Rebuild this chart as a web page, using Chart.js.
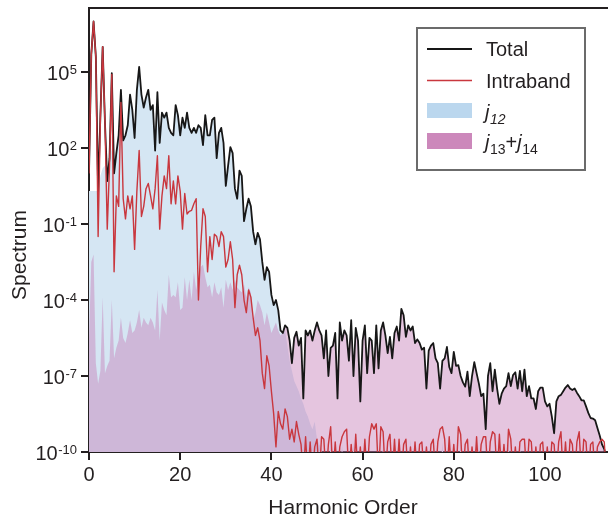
<!DOCTYPE html>
<html><head><meta charset="utf-8">
<script src="https://cdn.jsdelivr.net/npm/chart.js@4.4.0/dist/chart.umd.min.js"></script>
<style>html,body{margin:0;padding:0;background:#fff;overflow:hidden}canvas{display:block}</style>
</head><body>
<canvas id="c" width="608" height="516" style="width:608px;height:516px"></canvas>
<script>
const harmonics = [
0,0.5,1,1.5,2,2.5,3,3.5,4,4.5,
5,5.5,6,6.5,7,7.5,8,8.5,9,9.5,
10,10.5,11,11.5,12,12.5,13,13.5,14,14.5,
15,15.5,16,16.5,17,17.5,18,18.5,19,19.5,
20,20.5,21,21.5,22,22.5,23,23.5,24,24.5,
25,25.5,26,26.5,27,27.5,28,28.5,29,29.5,
30,30.5,31,31.5,32,32.5,33,33.5,34,34.5,
35,35.5,36,36.5,37,37.5,38,38.5,39,39.5,
40,40.5,41,41.5,42,42.5,43,43.5,44,44.5,
45,45.5,46,46.5,47,47.5,48,48.5,49,49.5,
50,50.5,51,51.5,52,52.5,53,53.5,54,54.5,
55,55.5,56,56.5,57,57.5,58,58.5,59,59.5,
60,60.5,61,61.5,62,62.5,63,63.5,64,64.5,
65,65.5,66,66.5,67,67.5,68,68.5,69,69.5,
70,70.5,71,71.5,72,72.5,73,73.5,74,74.5,
75,75.5,76,76.5,77,77.5,78,78.5,79,79.5,
80,80.5,81,81.5,82,82.5,83,83.5,84,84.5,
85,85.5,86,86.5,87,87.5,88,88.5,89,89.5,
90,90.5,91,91.5,92,92.5,93,93.5,94,94.5,
95,95.5,96,96.5,97,97.5,98,98.5,99,99.5,
100,100.5,101,101.5,102,102.5,103,103.5,104,104.5,
105,105.5,106,106.5,107,107.5,108,108.5,109,109.5,
110,110.5,111,111.5,112,112.5,113,113.5];

const total = [
1e1,5e5,1e7,4e5,2,2e3,1e6,1e3,5,40,
9e4,10,63,320,2e4,200,320,800,1.3e4,3.2e3,
250,2e4,1.6e5,1.3e4,4e3,1e4,2e4,3.2e3,5e3,80,
1.6e4,160,2.5e3,1.6e3,2.5e3,630,400,320,5e3,2e3,
320,1.6e3,630,2.5e3,630,400,630,400,800,630,
130,2e3,320,320,1.3e3,1.6e3,40,400,630,160,
3.2,20,110,63,2.5,1,13,8,0.13,0.4,
1,0.5,0.05,0.016,0.045,0.025,3.2e-3,6.3e-4,2e-3,1.3e-3,
1.6e-4,6.3e-5,1e-4,4e-5,6.3e-6,5e-6,1e-5,8e-6,2.5e-6,3.2e-7,
3.2e-6,5.6e-6,1.6e-6,3.2e-6,1.3e-8,6.3e-6,4e-6,6.3e-6,2.5e-6,6.3e-6,
1.3e-5,6.3e-6,4e-6,5e-7,6.3e-6,1e-7,1.3e-6,1.6e-6,5e-6,1.3e-8,
1.3e-5,2.5e-6,6.3e-6,4e-6,4e-7,1.6e-5,1e-7,8e-6,2.5e-6,1e-8,
2.5e-6,1e-5,1.3e-7,3.2e-6,2.5e-6,1.3e-7,1e-5,2e-7,6.3e-6,1.3e-5,
4e-6,8e-7,3.5e-6,5e-7,5e-6,9e-6,2.5e-6,4.5e-5,2.5e-5,3.5e-6,
1e-5,6.3e-6,9e-6,2e-6,2.8e-6,2e-6,1.1e-6,1.3e-6,3.2e-8,1e-6,
1.6e-6,2e-6,5e-7,3.2e-7,3.2e-8,4e-7,5e-7,1.4e-6,2.3e-7,1.3e-7,
9e-7,2.5e-7,2.7e-7,1e-7,5.6e-8,3.8e-8,1.5e-7,1.6e-8,1e-7,3.5e-7,
1.3e-7,5e-8,1.6e-8,2e-8,8e-10,1e-7,3.2e-7,2.5e-8,1.8e-7,3.2e-8,
8e-9,2e-8,3.2e-8,4e-8,1.3e-7,4e-8,1.1e-7,1.4e-7,3.2e-8,1.6e-7,
2.5e-8,1.8e-7,1.6e-8,4e-8,1.3e-8,1.3e-8,5e-9,2.5e-8,3.5e-8,3.5e-8,
1e-8,6.3e-9,8e-9,2.5e-9,5.5e-10,1e-8,1.6e-8,1.8e-8,2.5e-8,3.5e-8,
4.4e-8,3.2e-8,2.8e-8,3.2e-8,2.2e-8,1.6e-8,1.1e-8,1.1e-8,6.3e-9,3.5e-9,
2.2e-9,2.1e-9,1.8e-9,8.9e-10,4.5e-10,2e-10,1.3e-10,5e-11];

const intraband = [
1e1,5e5,1e7,4e5,0.032,1.6e3,1e6,1e3,0.063,20,
8e4,1.3e-3,1.3,0.5,6.3e3,1,0.16,1.3,0.4,1.3,
0.01,2,80,0.2,0.5,2.5,4,1.3,0.4,2.5,
50,0.063,1.3,8,2.5,50,0.63,5,0.63,8,
2,0.063,1.6,0.25,0.32,0.35,0.63,1,1e-4,0.013,
0.4,0.2,1.3e-3,0.032,4e-3,0.04,0.032,0.013,0.05,0.032,
2e-3,4e-3,0.02,4e-3,5e-5,1e-3,2.4e-3,1e-3,1e-4,3.2e-5,
2.5e-4,1.3e-4,2e-5,4e-6,8e-6,2.5e-6,1.3e-7,3.2e-8,6.3e-7,2.5e-7,
2.5e-8,3.2e-9,1.6e-10,4e-9,1.3e-9,8e-10,5e-9,2.5e-9,3.2e-10,8e-10,
2.5e-10,1.6e-9,5e-10,2e-10,1e-11,4e-10,1e-11,2.5e-10,1e-11,1.6e-10,
3.2e-10,1e-11,4e-10,3.2e-10,1e-11,2e-10,1e-9,1e-11,2.5e-10,1e-11,
1.6e-10,4e-10,6.3e-10,8e-10,1e-11,2e-10,1e-11,5e-10,1e-11,1.6e-10,
1e-11,3.2e-10,1e-11,4e-10,1.3e-9,8e-10,1.3e-9,1e-11,1e-9,6.3e-10,
1e-11,2.5e-10,5e-10,1e-11,3.2e-10,1e-11,3.2e-10,1e-11,2e-10,3.2e-10,
1e-11,1.6e-10,1e-11,2.5e-10,1e-11,2e-10,2.5e-10,1e-11,1.6e-10,1e-11,
2e-10,3.2e-10,1e-11,2.5e-10,8e-10,1e-9,3.2e-10,1e-11,4e-10,1e-11,
2e-10,1e-11,1e-9,5e-10,1e-11,2e-10,3.2e-10,1e-11,1.6e-10,1e-11,
4e-10,1e-11,2e-10,4e-10,4e-10,1e-11,2.5e-10,6.3e-10,5e-10,1e-11,
5e-10,1e-11,2e-10,1e-11,8e-10,3.2e-10,1e-11,1.6e-10,1e-11,2.5e-10,
3.2e-10,3.2e-10,1e-11,3.2e-10,2.5e-10,1e-11,1.6e-10,1e-11,2e-10,2.5e-10,
1e-11,1.6e-10,1e-11,2.5e-10,2e-10,1e-11,2.5e-10,6.3e-10,1e-11,2.5e-10,
1e-11,3.2e-10,2e-10,1e-11,2.5e-10,6.3e-10,1e-11,3.2e-10,2.5e-10,1e-11,
2e-10,2.5e-10,1e-11,1.6e-10,2.5e-10,3.2e-10,2.5e-10,1e-11];

const j12 = [
2,2,2,2,2,8,16,20,5,32,
100,10,63,320,1.6e4,200,320,800,1.3e4,3.2e3,
250,2e4,1.6e5,1.3e4,4e3,1e4,2e4,3.2e3,5e3,80,
1.6e4,160,2.5e3,1.6e3,2.5e3,630,400,320,5e3,2e3,
320,1.6e3,630,2.5e3,630,400,630,400,800,630,
130,2e3,320,320,1.3e3,1.6e3,40,400,630,160,
3.2,20,110,63,2.5,1,13,8,0.13,0.4,
1,0.5,0.05,0.016,0.045,0.025,3.2e-3,6.3e-4,2e-3,1.3e-3,
1.6e-4,6.3e-5,1e-4,3.2e-5,5e-6,5e-6,6.3e-6,1.6e-6,4e-7,1.6e-7,
6.3e-8,4e-8,2.5e-8,1.3e-8,8e-9,4e-9,2.5e-9,1.3e-9,8e-10,1.6e-9,
3.2e-10,2e-10,1.3e-10,1e-11,1e-11,1e-11,2.5e-10,1e-11,1e-11,1e-11,
1e-11,2e-10,1e-11,1e-11,1e-11,1e-11,2.5e-10,1e-11,1e-11,1e-11,
1e-11,1e-11,1e-11,1e-11,1e-11,1e-11,1e-11,1e-11,1e-11,2e-10,
1e-11,1e-11,1e-11,1e-11,1e-11,1e-11,1e-11,1e-11,1e-11,1e-11,
1e-11,3.2e-10,1e-11,1e-11,1e-11,1e-11,1e-11,1e-11,1e-11,1e-11,
1e-11,1e-11,1e-11,1e-11,1e-11,2.5e-10,1e-11,1e-11,1e-11,1e-11,
1e-11,1e-11,1e-11,2.5e-10,1e-11,1e-11,1e-11,1e-11,1e-11,1e-11,
1e-11,2e-10,1e-11,1e-11,1e-11,1e-11,1e-11,1e-11,1e-11,1e-11,
1e-11,1e-11,1e-11,1e-11,2.5e-10,1e-11,1e-11,1e-11,1e-11,2e-10,
1e-11,1e-11,1e-11,1e-11,1e-11,1e-11,1e-11,1e-11,1e-11,1e-11,
1e-11,1e-11,1e-11,1e-11,1e-11,1e-11,2e-10,1e-11,1e-11,1e-11,
1e-11,1e-11,1e-11,1e-11,1e-11,1e-11,1e-11,2.5e-10,1e-11,1e-11,
1e-11,1e-11,1e-11,1e-11,1e-11,1e-11,1e-11,1e-11];

const j13j14 = [
3.2e-6,3.2e-3,6.3e-3,3.2e-7,5e-8,1.6e-7,1.3e-4,1.3e-7,2.5e-7,4e-7,
1e-4,5e-7,1.3e-6,2.5e-6,2e-5,3.2e-6,2e-6,5e-6,1.6e-5,5e-6,
6.3e-6,1.3e-5,4e-5,8e-6,2e-5,1.3e-5,1e-5,2e-5,1.3e-5,6.3e-6,
2.5e-4,2.5e-6,8e-5,4e-5,2.5e-5,1e-3,1.3e-4,1.6e-4,1.3e-4,5e-4,
4e-5,5e-5,8e-4,1e-4,6.3e-4,1e-4,1.3e-3,2.5e-4,8e-4,2e-3,
2.5e-3,8e-4,3.2e-4,4e-4,1.3e-4,5e-4,2e-4,1.6e-4,3.2e-4,5e-5,
6.3e-4,2.5e-4,5e-4,2.5e-4,6.3e-4,3.2e-4,2.5e-4,2e-4,4e-4,1.3e-4,
3.2e-4,2e-4,1.6e-5,3.2e-5,1e-4,6.3e-5,3.2e-5,1e-5,3.2e-5,1.3e-5,
5e-6,8e-6,1.3e-5,6.3e-6,4e-6,5e-6,1e-5,8e-6,2.5e-6,3.2e-7,
3.2e-6,5.6e-6,1.6e-6,3.2e-6,1.3e-8,6.3e-6,4e-6,6.3e-6,2.5e-6,6.3e-6,
1.3e-5,6.3e-6,4e-6,5e-7,6.3e-6,1e-7,1.3e-6,1.6e-6,5e-6,1.3e-8,
1.3e-5,2.5e-6,6.3e-6,4e-6,4e-7,1.6e-5,1e-7,8e-6,2.5e-6,1e-8,
2.5e-6,1e-5,1.3e-7,3.2e-6,2.5e-6,1.3e-7,1e-5,2e-7,6.3e-6,1.3e-5,
4e-6,8e-7,3.5e-6,5e-7,5e-6,9e-6,2.5e-6,4.5e-5,2.5e-5,3.5e-6,
1e-5,6.3e-6,9e-6,2e-6,2.8e-6,2e-6,1.1e-6,1.3e-6,3.2e-8,1e-6,
1.6e-6,2e-6,5e-7,3.2e-7,3.2e-8,4e-7,5e-7,1.4e-6,2.3e-7,1.3e-7,
9e-7,2.5e-7,2.7e-7,1e-7,5.6e-8,3.8e-8,1.5e-7,1.6e-8,1e-7,3.5e-7,
1.3e-7,5e-8,1.6e-8,2e-8,8e-10,1e-7,3.2e-7,2.5e-8,1.8e-7,3.2e-8,
8e-9,2e-8,3.2e-8,4e-8,1.3e-7,4e-8,1.1e-7,1.4e-7,3.2e-8,1.6e-7,
2.5e-8,1.8e-7,1.6e-8,4e-8,1.3e-8,1.3e-8,5e-9,2.5e-8,3.5e-8,3.5e-8,
1e-8,6.3e-9,8e-9,2.5e-9,5.5e-10,1e-8,1.6e-8,1.8e-8,2.5e-8,3.5e-8,
4.4e-8,3.2e-8,2.8e-8,3.2e-8,2.2e-8,1.6e-8,1.1e-8,1.1e-8,6.3e-9,3.5e-9,
2.2e-9,2.1e-9,1.8e-9,8.9e-10,4.5e-10,2e-10,1.3e-10,5e-11];

const xTicks = [0, 20, 40, 60, 80, 100];
const yTickValues = [1e5, 1e2, 1e-1, 1e-4, 1e-7, 1e-10];
const yTickBase = '10';
const yTickExponents = ['5', '2', '-1', '-4', '-7', '-10'];
const xTitle = 'Harmonic Order';
const yTitle = 'Spectrum';

const FONT = "'Liberation Sans', Arial, Helvetica, sans-serif";
const INK = '#231f20';
const C_TOTAL = '#171717';
const C_INTRA = '#c9373e';
const C_J12 = 'rgb(213,230,243)';
const C_J1314 = 'rgba(197,126,184,0.45)';

function toPoints(arr) { return harmonics.map((h, i) => ({ x: h, y: arr[i] })); }

const decor = {
  id: 'decor',
  afterDraw(chart) {
    const { ctx, chartArea: a, scales: { y } } = chart;
    ctx.save();
    // top frame line
    ctx.strokeStyle = INK; ctx.lineWidth = 2;
    ctx.beginPath(); ctx.moveTo(a.left - 1, a.top); ctx.lineTo(chart.width, a.top); ctx.stroke();
    // y tick labels 10^n
    ctx.fillStyle = INK; ctx.textBaseline = 'alphabetic';
    const right = a.left - 12;
    yTickValues.forEach((v, i) => {
      const py = y.getPixelForValue(v);
      ctx.font = '13px ' + FONT;
      const ew = ctx.measureText(yTickExponents[i]).width;
      ctx.textAlign = 'left';
      ctx.fillText(yTickExponents[i], right - ew, py + 2);
      ctx.font = '20px ' + FONT;
      ctx.textAlign = 'right';
      ctx.fillText(yTickBase, right - ew - 0.5, py + 7.5);
    });
    // axis titles
    ctx.font = '21px ' + FONT; ctx.textAlign = 'center';
    ctx.fillText(xTitle, 343, 514);
    ctx.save();
    ctx.translate(26, 255); ctx.rotate(-Math.PI / 2);
    ctx.fillText(yTitle, 0, 0);
    ctx.restore();
    // legend
    ctx.strokeStyle = '#6b6b6b'; ctx.lineWidth = 2;
    ctx.strokeRect(417, 28, 168, 142);
    ctx.lineCap = 'butt';
    ctx.strokeStyle = C_TOTAL; ctx.lineWidth = 2;
    ctx.beginPath(); ctx.moveTo(427, 49); ctx.lineTo(472, 49); ctx.stroke();
    ctx.strokeStyle = C_INTRA; ctx.lineWidth = 1.6;
    ctx.beginPath(); ctx.moveTo(427, 80.5); ctx.lineTo(472, 80.5); ctx.stroke();
    ctx.fillStyle = 'rgb(187,215,238)'; ctx.fillRect(427, 103, 45, 15);
    ctx.fillStyle = 'rgb(204,136,187)'; ctx.fillRect(427, 133, 45, 16);
    ctx.fillStyle = INK; ctx.textAlign = 'left';
    ctx.font = '20px ' + FONT;
    ctx.fillText('Total', 486, 56);
    ctx.fillText('Intraband', 486, 87.5);
    // j12
    let x = 485;
    ctx.font = 'italic 20px ' + FONT;
    ctx.fillText('j', x, 119); x += ctx.measureText('j').width + 0.5;
    ctx.font = 'italic 14px ' + FONT;
    ctx.fillText('12', x, 124);
    // j13+j14
    x = 485;
    ctx.font = 'italic 20px ' + FONT;
    ctx.fillText('j', x, 149); x += ctx.measureText('j').width + 0.5;
    ctx.font = '14px ' + FONT;
    ctx.fillText('13', x, 154); x += ctx.measureText('13').width;
    ctx.font = '20px ' + FONT;
    ctx.fillText('+', x, 149); x += ctx.measureText('+').width;
    ctx.font = 'italic 20px ' + FONT;
    ctx.fillText('j', x, 149); x += ctx.measureText('j').width + 0.5;
    ctx.font = '14px ' + FONT;
    ctx.fillText('14', x, 154);
    ctx.restore();
  }
};

new Chart(document.getElementById('c'), {
  type: 'line',
  data: {
    datasets: [
      { label: 'Intraband', data: toPoints(intraband), borderColor: C_INTRA, borderWidth: 1.4,
        borderJoinStyle: 'round', pointRadius: 0, fill: false, tension: 0, order: 0 },
      { label: 'Total', data: toPoints(total), borderColor: C_TOTAL, borderWidth: 1.8,
        borderJoinStyle: 'round', pointRadius: 0, fill: false, tension: 0, order: 1 },
      { label: 'j13+j14', data: toPoints(j13j14), borderColor: 'rgba(0,0,0,0)', borderWidth: 0,
        backgroundColor: C_J1314, fill: 'start', pointRadius: 0, tension: 0, order: 2 },
      { label: 'j12', data: toPoints(j12), borderColor: 'rgba(0,0,0,0)', borderWidth: 0,
        backgroundColor: C_J12, fill: 'start', pointRadius: 0, tension: 0, order: 3 }
    ]
  },
  options: {
    responsive: false, animation: false, events: [],
    layout: { padding: { top: 8, right: 1, left: 0, bottom: 0 } },
    plugins: { legend: { display: false }, tooltip: { enabled: false } },
    scales: {
      x: {
        type: 'linear', min: 0, max: 113.6,
        afterBuildTicks: s => { s.ticks = xTicks.map(v => ({ value: v })); },
        afterFit: s => { s.height = 64; },
        ticks: { font: { size: 20, family: FONT }, color: INK, padding: 3, maxRotation: 0, autoSkip: false },
        grid: { drawOnChartArea: false, drawTicks: true, tickLength: 8, color: INK, lineWidth: 2 },
        border: { display: true, color: INK, width: 2 }
      },
      y: {
        type: 'logarithmic', min: 1e-10, max: 3.4e7,
        afterBuildTicks: s => { s.ticks = yTickValues.map(v => ({ value: v })); },
        afterFit: s => { s.width = 89; },
        ticks: { display: false },
        grid: { drawOnChartArea: false, drawTicks: true, tickLength: 8, color: INK, lineWidth: 2 },
        border: { display: true, color: INK, width: 2 }
      }
    }
  },
  plugins: [decor]
});
</script>
</body></html>
